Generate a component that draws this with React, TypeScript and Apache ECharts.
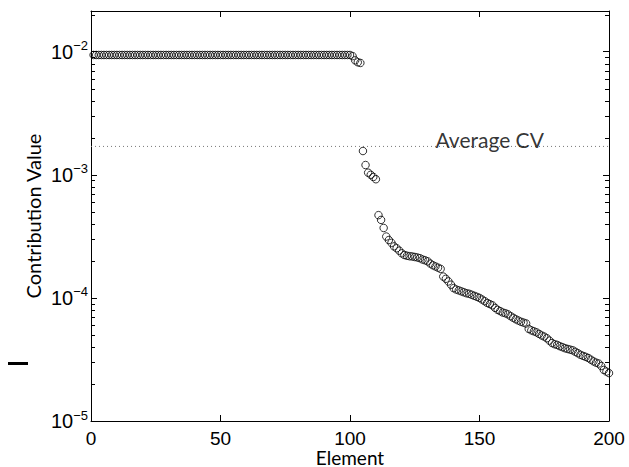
import React, { useEffect, useRef } from "react";
import * as echarts from "echarts";

// Contribution values for elements 1..200
const flatValues: number[] = [
  0.0094, 0.0094, 0.0094, 0.0094, 0.0094, 0.0094, 0.0094, 0.0094, 0.0094, 0.0094,
  0.0094, 0.0094, 0.0094, 0.0094, 0.0094, 0.0094, 0.0094, 0.0094, 0.0094, 0.0094,
  0.0094, 0.0094, 0.0094, 0.0094, 0.0094, 0.0094, 0.0094, 0.0094, 0.0094, 0.0094,
  0.0094, 0.0094, 0.0094, 0.0094, 0.0094, 0.0094, 0.0094, 0.0094, 0.0094, 0.0094,
  0.0094, 0.0094, 0.0094, 0.0094, 0.0094, 0.0094, 0.0094, 0.0094, 0.0094, 0.0094,
  0.0094, 0.0094, 0.0094, 0.0094, 0.0094, 0.0094, 0.0094, 0.0094, 0.0094, 0.0094,
  0.0094, 0.0094, 0.0094, 0.0094, 0.0094, 0.0094, 0.0094, 0.0094, 0.0094, 0.0094,
  0.0094, 0.0094, 0.0094, 0.0094, 0.0094, 0.0094, 0.0094, 0.0094, 0.0094, 0.0094,
  0.0094, 0.0094, 0.0094, 0.0094, 0.0094, 0.0094, 0.0094, 0.0094, 0.0094, 0.0094,
  0.0094, 0.0094, 0.0094, 0.0094, 0.0094, 0.0094, 0.0094, 0.0094, 0.0094, 0.0094,
  0.0092,
];
const dropValues: number[] = [
  0.0085, 0.0082, 0.0081,
  0.00156, 0.0012, 0.00104, 0.001, 0.00096, 0.00092,
];
const tailValues: number[] = [
  4.7e-4, 4.3e-4, 3.7e-4, 3.15e-4, 2.95e-4, 2.8e-4, 2.62e-4, 2.53e-4, 2.42e-4, 2.3e-4,
  2.23e-4, 2.2e-4, 2.18e-4, 2.17e-4, 2.15e-4, 2.13e-4, 2.1e-4, 2.05e-4, 2.02e-4, 1.98e-4,
  1.9e-4, 1.84e-4, 1.8e-4, 1.76e-4, 1.72e-4, 1.49e-4, 1.43e-4, 1.36e-4, 1.28e-4, 1.2e-4,
  1.17e-4, 1.15e-4, 1.13e-4, 1.11e-4, 1.09e-4, 1.08e-4, 1.06e-4, 1.04e-4, 1.02e-4, 1.0e-4,
  9.7e-5, 9.4e-5, 9.1e-5, 8.9e-5, 8.7e-5, 8.3e-5, 8.0e-5, 7.8e-5, 7.6e-5, 7.5e-5,
  7.35e-5, 7.1e-5, 6.9e-5, 6.7e-5, 6.55e-5, 6.4e-5, 6.3e-5, 6.2e-5, 5.6e-5, 5.45e-5,
  5.35e-5, 5.25e-5, 5.1e-5, 4.95e-5, 4.85e-5, 4.7e-5, 4.5e-5, 4.3e-5, 4.2e-5, 4.15e-5,
  4.05e-5, 3.98e-5, 3.9e-5, 3.85e-5, 3.8e-5, 3.75e-5, 3.65e-5, 3.55e-5, 3.45e-5, 3.38e-5,
  3.32e-5, 3.25e-5, 3.15e-5, 3.05e-5, 2.98e-5, 2.93e-5, 2.8e-5, 2.6e-5, 2.52e-5, 2.45e-5,
];
const contributionValues: number[] = [...flatValues, ...dropValues, ...tailValues];

const averageCV = 0.0017;
const averageLabel = "Average CV";
const averageLabelX = 133;

const xMin = 0;
const xMax = 200;
const xInterval = 50;
const yMin = 1e-5;
const yMax = 0.0214;
const yMinorMultipliers = [2, 3, 4, 5, 6, 7, 8, 9];
const yDecades = [1e-5, 1e-4, 1e-3, 1e-2];

const xName = "Element";
const yName = "Contribution Value";

export default function App() {
  const ref = useRef<HTMLDivElement>(null);

  useEffect(() => {
    if (!ref.current) return;
    const chart = echarts.init(ref.current, undefined, { renderer: "svg" });

    const points = contributionValues.map((v, i) => [i + 1, v]);
    const minorValues: number[] = [];
    yDecades.forEach((d) =>
      yMinorMultipliers.forEach((m) => {
        const v = d * m;
        if (v < yMax) minorValues.push(v);
      })
    );

    const tickFont = "'Liberation Sans', Arial, sans-serif";
    const nameFont = "Lato, 'Noto Sans', sans-serif";

    const yLabelFormatter = (v: number) => {
      const e = Math.log10(v);
      if (Math.abs(e - Math.round(e)) > 1e-6) return "";
      return `{b|10}{s|${"\u2212"}${Math.abs(Math.round(e))}}`;
    };

    const axisLine = { show: true, onZero: false, lineStyle: { color: "#000", width: 1 } };
    const tickStyle = { show: true, inside: true, length: 6, lineStyle: { color: "#000", width: 1 } };

    chart.setOption({
      animation: false,
      backgroundColor: "#fff",
      grid: { left: 91, right: 20, top: 11, bottom: 46, containLabel: false, outerBoundsMode: "none" },
      xAxis: [
        {
          type: "value",
          min: xMin,
          max: xMax,
          interval: xInterval,
          position: "bottom",
          axisLine,
          axisTick: tickStyle,
          splitLine: { show: false },
          axisLabel: { color: "#000", fontSize: 19, lineHeight: 16, fontFamily: tickFont, margin: 9 },
          name: xName,
          nameLocation: "middle",
          nameGap: 27,
          nameMoveOverlap: false,
          nameTextStyle: { color: "#000", fontSize: 19, lineHeight: 18, fontFamily: nameFont },
        },
        {
          type: "value",
          min: xMin,
          max: xMax,
          interval: xInterval,
          position: "top",
          axisLine,
          axisTick: tickStyle,
          splitLine: { show: false },
          axisLabel: { show: false },
        },
      ],
      yAxis: [
        {
          type: "log",
          logBase: 10,
          min: yMin,
          max: yMax,
          position: "left",
          axisLine,
          axisTick: tickStyle,
          splitLine: { show: false },
          axisLabel: {
            color: "#000",
            fontFamily: tickFont,
            margin: 3,
            formatter: yLabelFormatter,
            rich: {
              b: { fontSize: 20, fontFamily: tickFont, color: "#000" },
              s: { fontSize: 13, fontFamily: tickFont, color: "#000", padding: [0, 0, 12, 0] },
            },
          },
          name: yName,
          nameLocation: "middle",
          nameGap: 48,
          nameRotate: 90,
          nameMoveOverlap: false,
          nameTextStyle: { color: "#000", fontSize: 20, fontFamily: nameFont },
        },
        {
          type: "log",
          logBase: 10,
          min: yMin,
          max: yMax,
          position: "right",
          axisLine,
          axisTick: tickStyle,
          splitLine: { show: false },
          axisLabel: { show: false },
        },
      ],
      series: [
        {
          type: "line",
          xAxisIndex: 0,
          yAxisIndex: 0,
          silent: true,
          symbol: "none",
          data: [
            [xMin, averageCV],
            [xMax, averageCV],
          ],
          lineStyle: { color: "#777", width: 1, type: [1, 3] },
          z: 1,
        },
        {
          type: "scatter",
          xAxisIndex: 0,
          yAxisIndex: 0,
          data: points,
          symbol: "circle",
          symbolSize: 7.5,
          itemStyle: { color: "rgba(0,0,0,0)", borderColor: "#000", borderWidth: 1 },
          z: 3,
        },
        {
          type: "scatter",
          xAxisIndex: 0,
          yAxisIndex: 0,
          silent: true,
          symbol: "circle",
          symbolSize: 0,
          data: [[averageLabelX, averageCV]],
          label: {
            show: true,
            formatter: averageLabel,
            position: [0, 0],
            align: "left",
            verticalAlign: "bottom",
            offset: [0, 4],
            color: "#000",
            fontSize: 21,
            fontFamily: nameFont,
          },
          z: 4,
        },
      ],
    });

    // Minor log ticks (2..9 of each decade) on both vertical axes, placed through the axis scale
    const minorLines: any[] = [];
    minorValues.forEach((v) => {
      const pl = chart.convertToPixel({ gridIndex: 0 }, [xMin, v]) as number[];
      const pr = chart.convertToPixel({ gridIndex: 0 }, [xMax, v]) as number[];
      const y = Math.round(pl[1]) + 0.5;
      minorLines.push({
        type: "line",
        shape: { x1: pl[0], y1: y, x2: pl[0] + 4, y2: y },
        style: { stroke: "#000", lineWidth: 1 },
      });
      minorLines.push({
        type: "line",
        shape: { x1: pr[0], y1: y, x2: pr[0] - 4, y2: y },
        style: { stroke: "#000", lineWidth: 1 },
      });
    });
    chart.setOption({
      graphic: [
        { type: "rect", left: 8, top: 362, shape: { width: 20, height: 3 }, style: { fill: "#000" } },
        ...minorLines,
      ],
    });

    return () => chart.dispose();
  }, []);

  return (
    <div
      ref={ref}
      style={{ position: "fixed", left: 0, top: 0, width: 629, height: 467 }}
    />
  );
}
